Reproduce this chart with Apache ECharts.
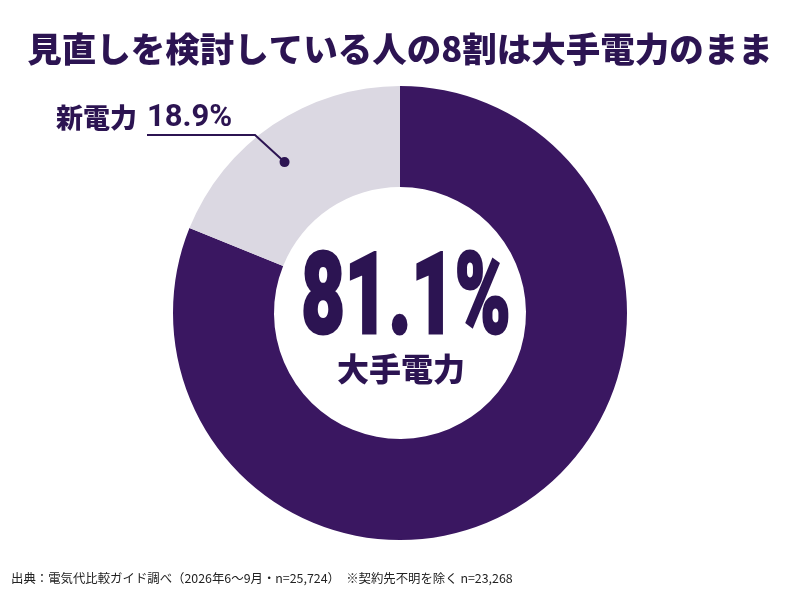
<!DOCTYPE html>
<html>
<head>
<meta charset="utf-8">
<script src="https://cdn.jsdelivr.net/npm/echarts@6/dist/echarts.min.js"></script>
<style>
  html, body { margin: 0; padding: 0; background: #fff; }
  #chart { width: 800px; height: 600px; }
</style>
</head>
<body>
<div id="chart"></div>
<script>
// 見直し検討者の契約先（大手電力 / 新電力）
const categories = ['大手電力', '新電力'];
const shares = [81.1, 18.9];
const titleText = '見直しを検討している人の8割は大手電力のまま';
const sourceText = '出典：電気代比較ガイド調べ（2026年6〜9月・n=25,724）　※契約先不明を除く n=23,268';

const PURPLE = '#3a1761';
const GREY = '#dbd8e2';
const INK = '#2c1452';
const JP = '"Noto Sans CJK JP", "Noto Sans", sans-serif';

const cx = 400, cy = 313, r0 = 126, r1 = 227;

// 新電力スライス上のドット位置（スライス角の中ほど、リング中央よりやや外）
const total = shares.reduce((a, b) => a + b, 0);
const greyDeg = shares[1] / total * 360;
const dotAng = greyDeg * 0.55 * Math.PI / 180;   // 12時から反時計回り
const dotR = 190;
const dotX = cx - dotR * Math.sin(dotAng);
const dotY = cy - dotR * Math.cos(dotAng);

const chart = echarts.init(document.getElementById('chart'), null, { renderer: 'canvas' });

chart.setOption({
  backgroundColor: '#fff',
  animation: false,
  title: {
    text: titleText, left: 'center', top: 27,
    textStyle: { fontFamily: JP, fontSize: 34.5, fontWeight: 900, color: INK },
  },
  series: [{
    type: 'pie',
    center: [cx, cy],
    radius: [r0, r1],
    startAngle: 90,
    clockwise: true,
    silent: true,
    data: categories.map((c, i) => ({
      name: c, value: shares[i],
      itemStyle: { color: i === 0 ? PURPLE : GREY },
      label: i === 0 ? { show: false } : {
        show: true, position: 'outside',
        formatter: (p) => `{n|${p.name}}{v|${p.value}%}`,
        rich: {
          n: { fontFamily: JP, fontSize: 27, fontWeight: 900, color: INK, padding: [0, 10, 0, 0] },
          v: { fontFamily: 'Roboto, sans-serif', fontSize: 31, fontWeight: 700, color: INK },
        },
      },
      labelLine: { show: false },
    })),
    labelLayout: (p) => p.dataIndex === 1 ? {
      x: 56, y: 118, align: 'left', verticalAlign: 'middle',
    } : {},
  }],
  graphic: [
    // 引き出し線（スライスより前面に描く）
    {
      type: 'polyline', z: 10,
      shape: { points: [[dotX, dotY], [255, 135], [147, 135]] },
      style: { stroke: INK, lineWidth: 2, fill: null },
    },
    { type: 'circle', shape: { cx: dotX, cy: dotY, r: 5 }, style: { fill: INK }, z: 11 },
    {
      type: 'text', x: 406, y: 304, scaleX: 0.66, z: 10,
      style: {
        text: shares[0] + '%', align: 'center', verticalAlign: 'middle',
        font: '900 114px Roboto, sans-serif', fill: INK,
        stroke: INK, lineWidth: 3,
      },
    },
    {
      type: 'text', x: 401, y: 369, z: 10,
      style: {
        text: categories[0], align: 'center', verticalAlign: 'middle',
        font: '900 32px ' + JP, fill: INK,
      },
    },
    {
      type: 'text', left: 11, top: 572,
      style: { text: sourceText, font: '12.4px ' + JP, fill: '#222' },
    },
  ],
});
</script>
</body>
</html>
